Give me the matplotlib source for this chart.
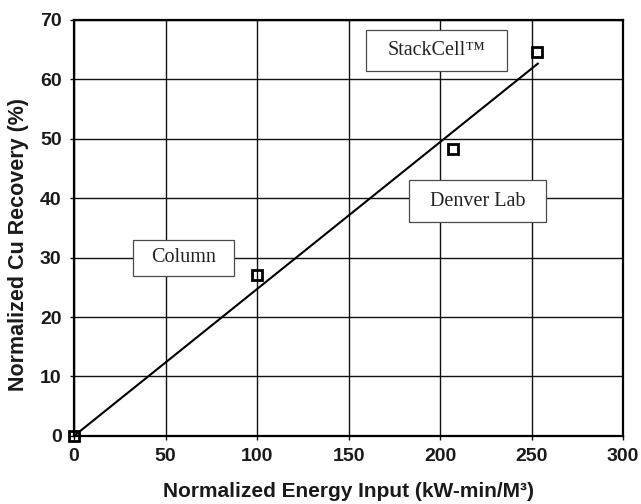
import matplotlib
matplotlib.use("Agg")
import matplotlib.pyplot as plt
from matplotlib.patches import Rectangle

# measured points
energy = [0, 100, 207, 253]
recovery = [0, 27, 48.2, 64.5]

# fitted line drawn on the chart
fit_x = [0, 253.4]
fit_y = [0, 62.6]

labels = ["StackCell™", "Denver Lab", "Column"]
# label boxes as (x0, x1, y0, y1) in data units
label_boxes = [(159.4, 236.8, 61.3, 68.3),
               (183.1, 257.8, 36.0, 43.0),
               (32.4, 87.6, 26.9, 33.0)]

x_ticks = [0, 50, 100, 150, 200, 250, 300]
y_ticks = [0, 10, 20, 30, 40, 50, 60, 70]

plt.rcParams['font.family'] = ['Liberation Sans', 'DejaVu Sans']

fig = plt.figure(figsize=(6.41, 5.04), dpi=100)
ax = fig.add_axes([0.1155, 0.135, 0.8565, 0.826])

ax.plot(fit_x, fit_y, color='black', lw=1.5, zorder=3)
ax.plot(energy, recovery, linestyle='none', marker='s', markersize=7.5,
        markerfacecolor='none', markeredgecolor='black', markeredgewidth=2,
        zorder=4, clip_on=False)

for txt, (x0, x1, y0, y1) in zip(labels, label_boxes):
    ax.add_patch(Rectangle((x0, y0), x1 - x0, y1 - y0, facecolor='white',
                           edgecolor='#4a4a4a', lw=0.9, zorder=5))
    ax.text((x0 + x1) / 2, (y0 + y1) / 2, txt, ha='center', va='center',
            fontsize=14.5, color='#222222',
            family=['Liberation Serif', 'DejaVu Serif'], zorder=6)

ax.set_xlim(0, 300)
ax.set_ylim(0, 70)
ax.set_xticks(x_ticks)
ax.set_yticks(y_ticks)
ax.grid(True, color='#111111', lw=1.0)
ax.set_axisbelow(True)
for s in ax.spines.values():
    s.set_linewidth(1.6)
ax.tick_params(length=3, width=1.0, color='#111111', labelsize=14, pad=6)
for lab in ax.get_xticklabels() + ax.get_yticklabels():
    lab.set_fontweight('bold')
    lab.set_color('#1a1a1a')

ax.set_xlabel("Normalized Energy Input (kW-min/M³)", fontsize=15,
              fontweight='bold', labelpad=12, color='#1a1a1a')
ax.set_ylabel("Normalized Cu Recovery (%)", fontsize=15.5, y=0.459,
              fontweight='bold', labelpad=8, color='#1a1a1a')

fig.savefig("out.png", dpi=100)
